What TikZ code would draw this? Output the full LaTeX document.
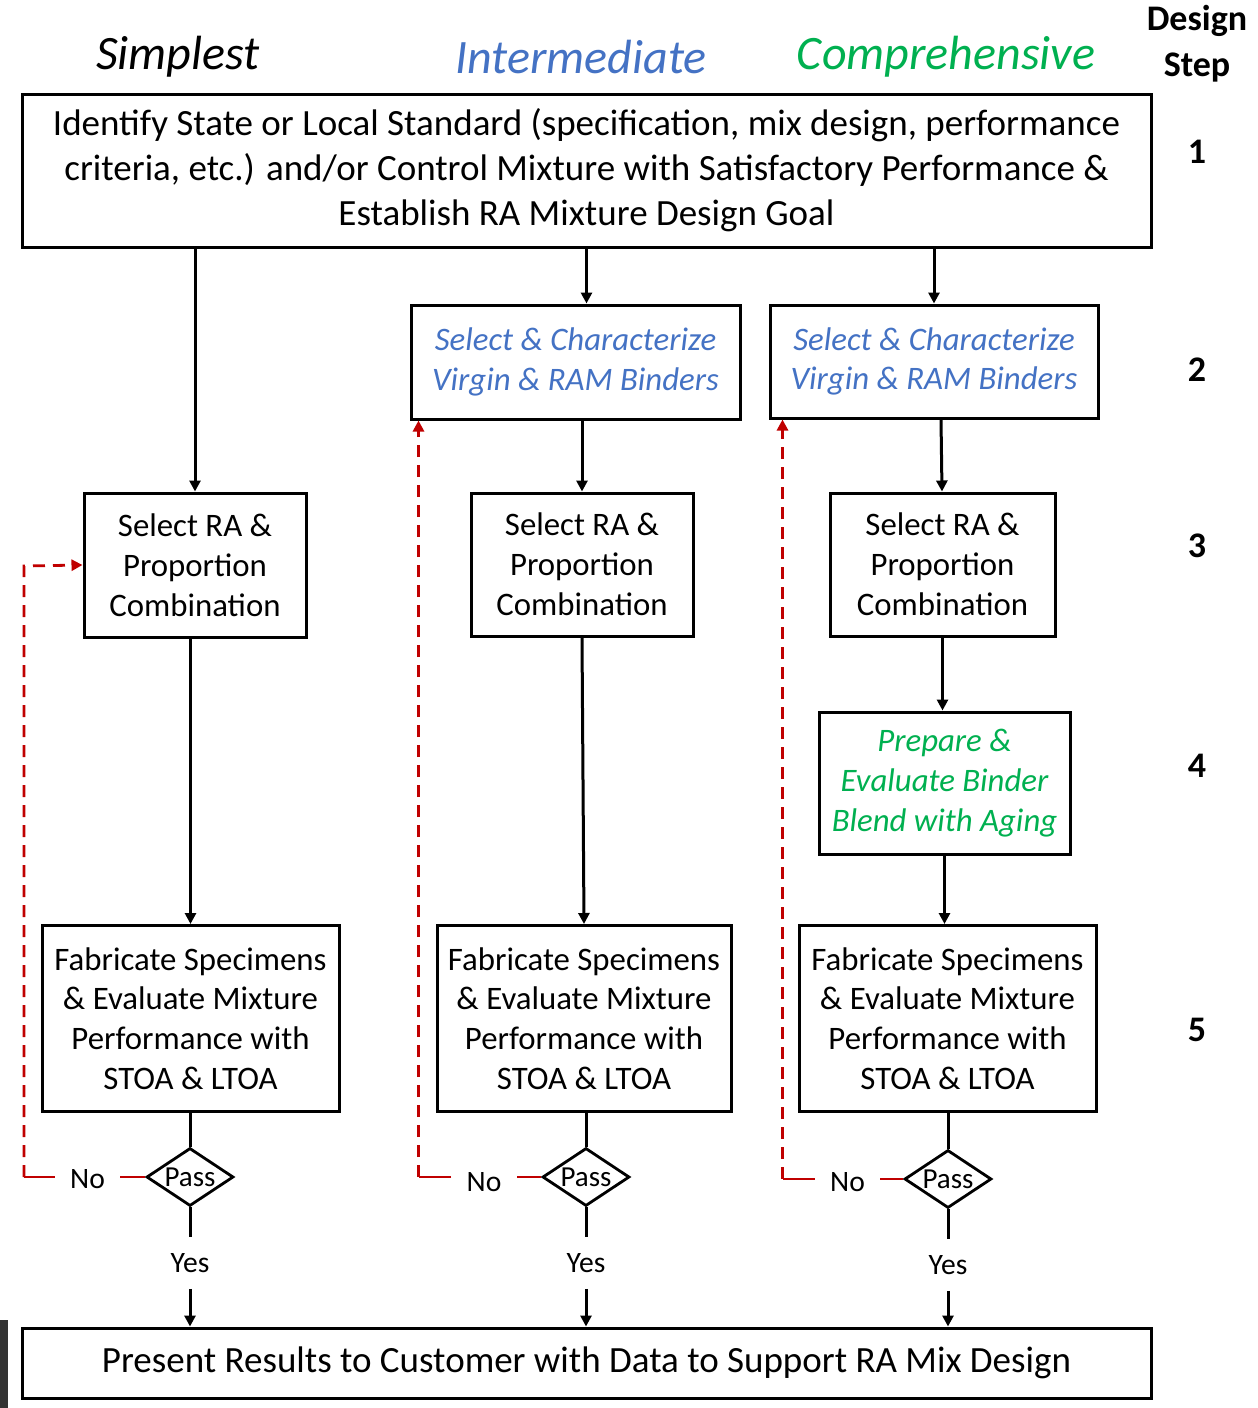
\documentclass[tikz,border=0pt]{standalone}
\usepackage{fontspec}
\setmainfont{Carlito}
\usetikzlibrary{shapes.geometric,arrows.meta,calc}
\definecolor{hdblue}{HTML}{4472C4}
\definecolor{hdgreen}{HTML}{00B050}
\definecolor{fbred}{HTML}{C00000}
\begin{document}
\begin{tikzpicture}[x=0.5pt,y=-0.5pt,
  box/.style={draw,line width=1.5pt,align=center,inner sep=0pt},
  big/.style={font=\fontsize{18.5}{22.5}\selectfont},
  mid/.style={font=\fontsize{16.4}{19.9}\selectfont},
  midit/.style={font=\fontsize{16.4}{19.9}\selectfont\itshape},
  hdr/.style={font=\fontsize{24}{26}\selectfont\itshape},
  stepno/.style={font=\fontsize{18}{23}\selectfont\bfseries},
  arr/.style={line width=1.5pt,-{Triangle[length=5.5pt,width=5.5pt]}},
  lnk/.style={line width=1.5pt},
  fbline/.style={fbred,line width=1.4pt},
  fb/.style={fbline,dash pattern=on 6pt off 4pt,-{Triangle[length=5.5pt,width=5.5pt]}},
  pass/.style={draw,line width=1.4pt,diamond,minimum width=43.5pt,minimum height=29pt,inner sep=0pt},
  small/.style={font=\fontsize{14.8}{16}\selectfont},
  yes/.style={small,minimum height=25.5pt,inner sep=0pt},
  no/.style={small,minimum width=32.5pt,inner sep=0pt}]
\useasboundingbox (0,0) rectangle (1258,1408);
\fill[white] (0,0) rectangle (1258,1408);
% grainy strip at the lower left edge
\fill[black!80] (0,1320) rectangle (8,1408);

% column headings and step column
\node[hdr] (hs) at (178,57) {Simplest};
\node[hdr,text=hdblue] (hi) at (581,57) {Intermediate};
\node[hdr,text=hdgreen] (hc) at (946,57) {Comprehensive};
\node[stepno,align=center] (ds) at (1197,44) {Design\\Step};
\node[stepno] (n1) at (1197,152) {1};
\node[stepno] (n2) at (1197,370) {2};
\node[stepno] (n3) at (1197,546) {3};
\node[stepno] (n4) at (1197,766) {4};
\node[stepno] (n5) at (1197,1030) {5};

% step 1 and final step
\node[box,big,minimum width=564.5pt,minimum height=76.5pt] (top) at (586.5,170.5)
  {Identify State or Local Standard (specification, mix design, performance\\
   criteria, etc.) and/or Control Mixture with Satisfactory Performance \&\\
   Establish RA Mixture Design Goal};
\node[box,big,minimum width=564.5pt,minimum height=35pt] (bot) at (586.5,1363)
  {Present Results to Customer with Data to Support RA Mix Design};

% step 2
\node[box,midit,text=hdblue,minimum width=164.5pt,minimum height=57pt] (s2b) at (575.5,362)
  {Select \& Characterize\\Virgin \& RAM Binders};
\node[box,midit,text=hdblue,minimum width=164pt,minimum height=56.5pt] (s2c) at (934,361.5)
  {Select \& Characterize\\Virgin \& RAM Binders};

% step 3
\node[box,mid,minimum width=111pt,minimum height=72pt] (s3a) at (195,565)
  {Select RA \&\\Proportion\\Combination};
\node[box,mid,minimum width=111pt,minimum height=71.5pt] (s3b) at (582,564.5)
  {Select RA \&\\Proportion\\Combination};
\node[box,mid,minimum width=112.5pt,minimum height=71.5pt] (s3c) at (942.5,564.5)
  {Select RA \&\\Proportion\\Combination};

% step 4
\node[box,midit,text=hdgreen,minimum width=125.5pt,minimum height=71pt] (s4c) at (944.5,783)
  {Prepare \&\\Evaluate Binder\\Blend with Aging};

% step 5
\node[box,mid,minimum width=148.5pt,minimum height=93pt] (s5a) at (190.5,1018.5)
  {Fabricate Specimens\\\& Evaluate Mixture\\Performance with\\STOA \& LTOA};
\node[box,mid,minimum width=147pt,minimum height=93pt] (s5b) at (584,1018.5)
  {Fabricate Specimens\\\& Evaluate Mixture\\Performance with\\STOA \& LTOA};
\node[box,mid,minimum width=148.5pt,minimum height=93pt] (s5c) at (947.5,1018.5)
  {Fabricate Specimens\\\& Evaluate Mixture\\Performance with\\STOA \& LTOA};

% pass checks
\node[pass] (p1) at (190,1177) {};
\node[pass] (p2) at (586,1177) {};
\node[pass] (p3) at (948,1179) {};
\foreach \p in {p1,p2,p3} \node[font=\fontsize{14.5}{16}\selectfont] at (\p) {Pass};

\node[yes] (y1) at (190,1263) {Yes};
\node[yes] (y2) at (586,1263) {Yes};
\node[yes] (y3) at (948,1265) {Yes};
\node[no] (o1) at (87.5,1179) {No};
\node[no] (o2) at (484,1182) {No};
\node[no] (o3) at (847.5,1182) {No};
\coordinate (k1) at (24,566);

% main flow
\draw[arr] (top.south -| s3a.north) -- (s3a.north);
\draw[arr] (top.south) -- (top.south |- s2b.north);
\draw[arr] (top.south -| s2c.north) -- (s2c.north);
\draw[arr] (s2b.south -| s3b.north) -- (s3b.north);
\draw[arr] (s2c.south -| 941,0) -- (s3c.north -| 942,0);
\draw[arr] (s3a.south -| s5a.north) -- (s5a.north);
\draw[arr] (s3b.south) -- (s5b.north);
\draw[arr] (s3c.south) -- (s3c.south |- s4c.north);
\draw[arr] (s4c.south) -- (s4c.south |- s5c.north);
\foreach \i/\b in {1/s5a,2/s5b,3/s5c}{
  \draw[lnk] (\b.south -| p\i.north) -- (p\i.north);
  \draw[lnk] (p\i.south) -- (y\i.north);
  \draw[arr] (y\i.south) -- (y\i.south |- bot.north);
}

% failed checks loop back
\draw[fbline] (p1.west) -- (p1.west -| o1.east);
\draw[fbline] (p2.west) -- (p2.west -| o2.east);
\draw[fbline] (p3.west) -- (p3.west -| o3.east);
\draw[fbline] (p1.west -| o1.west) -- (p1.west -| k1);
\draw[fbline] (p2.west -| o2.west) -- ([xshift=4.5pt]p2.west -| s2b.west);
\draw[fbline] (p3.west -| o3.west) -- ([xshift=7pt]p3.west -| s2c.west);
\draw[fb] (p1.west -| k1) -- (k1) -- (s3a.west);
\draw[fb] ([xshift=4.5pt]p2.west -| s2b.west) -- ([xshift=4.5pt]s2b.south west);
\draw[fb] ([xshift=7pt]p3.west -| s2c.west) -- ([xshift=7pt]s2c.south west);
\end{tikzpicture}
\end{document}
